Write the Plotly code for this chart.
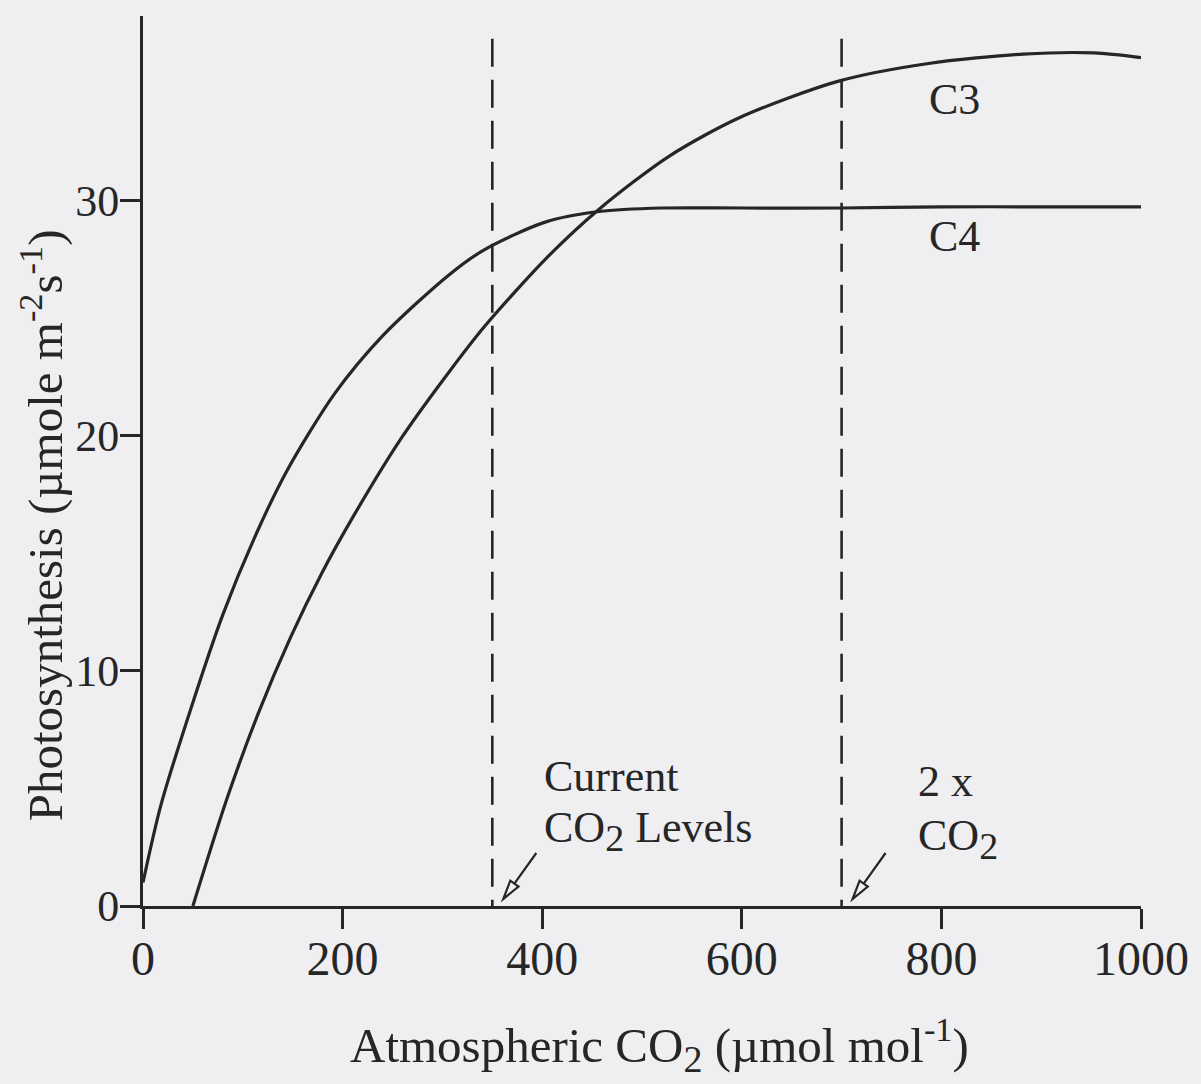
import plotly.graph_objects as go

# Net photosynthesis response to atmospheric CO2 for C3 and C4 plants
c3_co2 = [50, 84, 116, 147.5, 179, 211, 259.5, 308, 343, 405, 457, 527, 598, 697, 787, 882, 953, 1000]
c3_rate = [0, 4.55, 8.25, 11.4, 14.15, 16.6, 19.95, 22.8, 24.7, 27.6, 29.65, 31.9, 33.55, 35.1, 35.85, 36.25, 36.3, 36.1]

c4_co2 = [0, 18, 49.5, 80, 112, 144, 192, 241, 305, 341, 403, 457, 520, 600, 700, 800, 900, 1000]
c4_rate = [1.0, 4.3, 8.6, 12.4, 15.7, 18.5, 21.8, 24.3, 26.8, 27.9, 29.1, 29.55, 29.7, 29.7, 29.7, 29.75, 29.75, 29.75]

# Reference CO2 concentrations: present-day and doubled
ref_co2 = [350, 700]
ref_top = 36.9

x_ticks = [0, 200, 400, 600, 800, 1000]
y_ticks = [0, 10, 20, 30]

INK = "#262626"
BG = "#efeef1"
FONT = "Liberation Serif, Times New Roman, serif"
SUB2 = "<sub><span style='font-size:38px'>2</span></sub>"

fig = go.Figure()

fig.add_trace(go.Scatter(x=c4_co2, y=c4_rate, mode="lines",
                         line=dict(color=INK, width=3.2, shape="spline", smoothing=0.8),
                         hoverinfo="skip"))
fig.add_trace(go.Scatter(x=c3_co2, y=c3_rate, mode="lines",
                         line=dict(color=INK, width=3.2, shape="spline", smoothing=0.8),
                         hoverinfo="skip"))

for rx in ref_co2:
    fig.add_trace(go.Scatter(x=[rx, rx], y=[ref_top, 0], mode="lines",
                             line=dict(color=INK, width=2.6, dash="28px,13px"),
                             hoverinfo="skip"))

# Open-headed arrows pointing at the base of each reference line
arrow_path = "M 11 7 L 18 25.3 L 26.2 19.5 Z M 22.1 22.4 L 44 53"
shapes = []
for rx in ref_co2:
    shapes.append(dict(type="path", xref="x", yref="y",
                       xsizemode="pixel", ysizemode="pixel",
                       xanchor=rx, yanchor=0, path=arrow_path,
                       line=dict(color=INK, width=2.2),
                       fillcolor="rgba(0,0,0,0)"))

label_font = dict(family=FONT, size=44, color=INK)
annotations = [
    dict(x=813, y=34.3, text="C3", showarrow=False, font=label_font),
    dict(x=813, y=28.5, text="C4", showarrow=False, font=label_font),
    dict(x=400, y=5.5, text="Current", showarrow=False, xanchor="left", font=label_font),
    dict(x=400, y=3.2, text="CO" + SUB2 + " Levels", showarrow=False, xanchor="left", font=label_font),
    dict(x=775, y=5.3, text="2 x", showarrow=False, xanchor="left", font=label_font),
    dict(x=775, y=2.85, text="CO" + SUB2, showarrow=False, xanchor="left", font=label_font),
    dict(x=518, xref="x", y=0, yref="paper", yshift=-139, yanchor="middle",
         text="Atmospheric CO" + SUB2 + " (µmol mol<sup>-1</sup>)", showarrow=False,
         font=dict(family=FONT, size=49, color=INK)),
    dict(x=0, xref="paper", xshift=-101, y=16.2, yref="y", textangle=-90,
         xanchor="center", yanchor="middle",
         text="Photosynthesis (µmole m<sup>-2</sup>s<sup>-1</sup>)", showarrow=False,
         font=dict(family=FONT, size=49, color=INK)),
]

axis_common = dict(showline=True, linecolor=INK, linewidth=3, ticks="outside",
                   ticklen=20, tickwidth=2.5, tickcolor=INK, showgrid=False,
                   zeroline=False)

fig.update_layout(
    width=1201, height=1084,
    margin=dict(l=143, r=51, t=16, b=178),
    paper_bgcolor=BG, plot_bgcolor=BG,
    showlegend=False,
    xaxis=dict(range=[0, 1000], tickvals=x_ticks, ticklabelstandoff=-12,
               tickfont=dict(family=FONT, size=48, color=INK), **axis_common),
    yaxis=dict(range=[0, 37.87], tickvals=y_ticks, ticklabelstandoff=-8,
               tickfont=dict(family=FONT, size=44, color=INK), **axis_common),
    shapes=shapes,
    annotations=annotations,
)

fig.write_html("out.html")
